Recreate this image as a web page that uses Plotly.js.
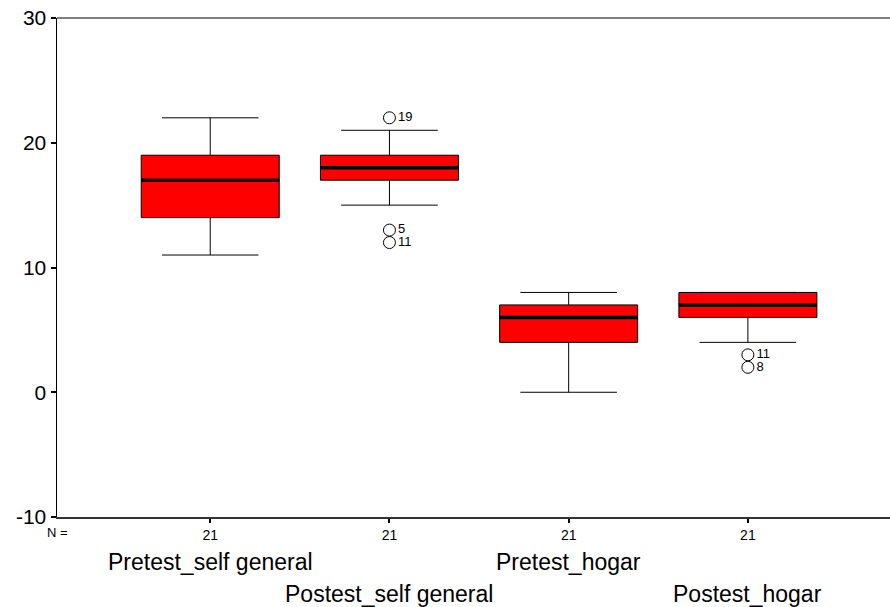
<!DOCTYPE html>
<html><head><meta charset="utf-8">
<script src="https://cdn.plot.ly/plotly-3.0.1.min.js"></script>
<style>html,body{margin:0;padding:0;background:#fff}#chart{width:890px;height:607px}</style>
</head><body><div id="chart"></div>
<script>
const categories = ["Pretest_self general","Postest_self general","Pretest_hogar","Postest_hogar"];
const positions = [1,2,3,4];
const counts = [21,21,21,21];
const lowerWhisker = [11,15,0,4];
const q1 = [14,17,4,6];
const medians = [17,18,6,7];
const q3 = [19,19,7,8];
const upperWhisker = [22,21,8,8];
const outlierGroup = [2,2,2,4,4];
const outlierValues = [22,13,12,3,2];
const outlierIds = ["19","5","11","11","8"];
const yTicks = [-10,0,10,20,30];
const yTickText = ["-10","0","10","20","30"];

const BOXW = 0.77;
const font = "Liberation Sans, Arial, sans-serif";

const traces = [];
traces.push({
  type:"box", x:positions, q1:q1, median:medians, q3:q3,
  lowerfence:lowerWhisker, upperfence:upperWhisker,
  width:BOXW, whiskerwidth:0.7, boxpoints:false,
  fillcolor:"#ff0000", line:{color:"#000", width:1},
  hoverinfo:"skip", showlegend:false
});
const mx=[], my=[];
positions.forEach((p,i)=>{ mx.push(p-BOXW/2, p+BOXW/2, null); my.push(medians[i], medians[i], null); });
traces.push({type:"scatter", mode:"lines", x:mx, y:my, line:{color:"#000", width:3.5}, showlegend:false, hoverinfo:"skip"});
traces.push({
  type:"scatter", mode:"markers+text", x:outlierGroup, y:outlierValues,
  text:outlierIds, textposition:"middle right",
  textfont:{family:font, size:13, color:"#000"},
  marker:{symbol:"circle-open", size:12, color:"#000", line:{width:1, color:"#000"}},
  showlegend:false, hoverinfo:"skip"
});

const annotations = [];
annotations.push({x:0.145, y:0, xref:"x", yref:"paper", yshift:-15, text:"N =", showarrow:false,
  font:{family:font, size:13, color:"#000"}, xanchor:"center", yanchor:"middle"});
positions.forEach((p,i)=>{
  annotations.push({x:p, y:0, xref:"x", yref:"paper", yshift:-45 - (i%2)*32, text:categories[i], showarrow:false,
    font:{family:font, size:23, color:"#000"}, xanchor:"center", yanchor:"middle"});
});

const layout = {
  width:890, height:607,
  margin:{l:57, r:0, t:18, b:90},
  paper_bgcolor:"#fff", plot_bgcolor:"#fff",
  font:{family:font, color:"#000"},
  showlegend:false,
  xaxis:{range:[0.145,4.793], tickvals:positions, ticktext:counts.map(String),
    ticks:"outside", ticklen:4, tickwidth:2, tickcolor:"#000",
    showline:true, linecolor:"#333", linewidth:2, mirror:false,
    showgrid:false, zeroline:false, tickfont:{size:14, family:font}},
  yaxis:{range:[-10,30], tickvals:yTicks, ticktext:yTickText,
    ticks:"outside", ticklen:5, tickwidth:2, tickcolor:"#000",
    showline:true, linecolor:"#000", linewidth:1.5,
    showgrid:false, zeroline:false, tickfont:{size:21, family:font}},
  shapes:[{type:"line", xref:"paper", yref:"paper", x0:0, x1:1, y0:1, y1:1, line:{color:"#000", width:1}}],
  annotations:annotations
};
Plotly.newPlot("chart", traces, layout, {displayModeBar:false, staticPlot:true});
</script></body></html>
